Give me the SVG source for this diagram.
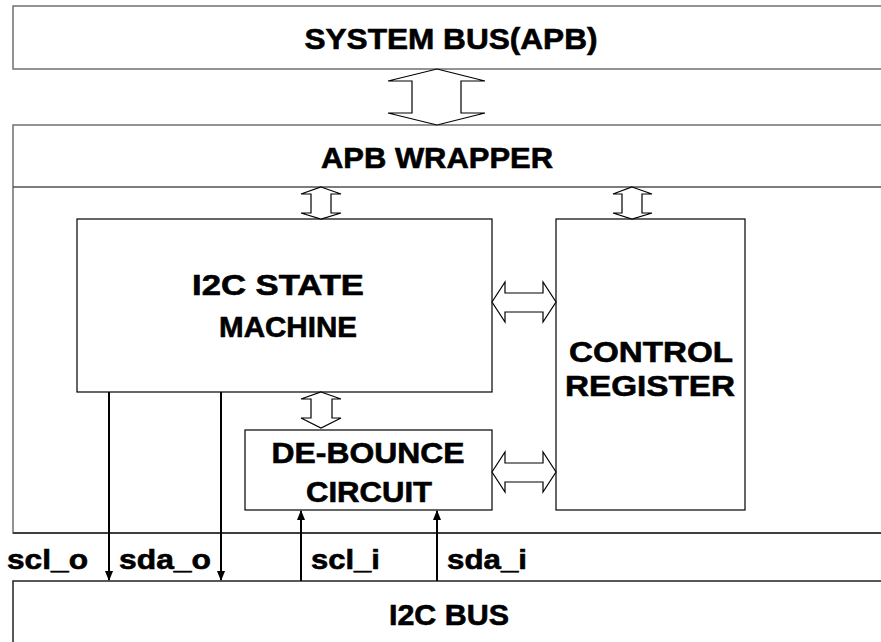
<svg xmlns="http://www.w3.org/2000/svg" width="881" height="642" viewBox="0 0 881 642">
<defs>
<style>
.bus{fill:#fff;stroke:#707070;stroke-width:1.5}
.bus2{fill:#fff;stroke:#222;stroke-width:1.5}
.box{fill:#fff;stroke:#000;stroke-width:1.2}
.arr{fill:#fff;stroke:#000;stroke-width:1.2;stroke-linejoin:miter}
.sig{stroke:#000;stroke-width:2;fill:none}
text{font-family:"Liberation Sans",Arial,sans-serif;font-weight:bold;fill:#000;stroke:#000;stroke-width:0.6;text-anchor:middle}
.t{font-size:29px}
.s{font-size:27px;text-anchor:start}
</style>
<marker id="ah" markerWidth="10" markerHeight="12" refX="9" refY="5" orient="auto" markerUnits="userSpaceOnUse">
<path d="M0,1 L10,5 L0,9 Z" fill="#000"/>
</marker>
</defs>
<rect width="881" height="642" fill="#fff"/>
<g id="system_bus">
<rect class="bus" x="13" y="6" width="900" height="63"/>
<text class="t" x="451" y="49" textLength="293" lengthAdjust="spacingAndGlyphs">SYSTEM BUS(APB)</text>
</g>
<g id="apb_wrapper">
<rect class="bus" x="13" y="125" width="900" height="408"/>
<line x1="13" y1="187" x2="881" y2="187" stroke="#505050" stroke-width="1.5"/>
<line x1="13" y1="533" x2="881" y2="533" stroke="#222" stroke-width="1.5"/>
<text class="t" x="437" y="168" textLength="232" lengthAdjust="spacingAndGlyphs">APB WRAPPER</text>
</g>
<g id="i2c_bus">
<rect class="bus2" x="13" y="581" width="900" height="80"/>
<text class="t" x="449" y="625" textLength="120" lengthAdjust="spacingAndGlyphs">I2C BUS</text>
</g>
<g id="state_machine">
<rect class="box" x="77" y="219" width="415" height="173"/>
<text class="t" x="278" y="295" textLength="172" lengthAdjust="spacingAndGlyphs">I2C STATE</text>
<text class="t" x="288" y="337" textLength="138" lengthAdjust="spacingAndGlyphs">MACHINE</text>
</g>
<g id="control_register">
<rect class="box" x="556" y="219" width="189" height="291"/>
<text class="t" x="651" y="362" textLength="164" lengthAdjust="spacingAndGlyphs">CONTROL</text>
<text class="t" x="650" y="396" textLength="170" lengthAdjust="spacingAndGlyphs">REGISTER</text>
</g>
<g id="debounce">
<rect class="box" x="245" y="430" width="247" height="80"/>
<text class="t" x="368" y="463" textLength="193" lengthAdjust="spacingAndGlyphs">DE-BOUNCE</text>
<text class="t" x="369" y="502" textLength="126" lengthAdjust="spacingAndGlyphs">CIRCUIT</text>
</g>
<g id="connectors">
<polygon class="arr" points="437,69 485,81 461,81 461,113 485,113 437,125 388,113 412,113 412,81 388,81"/>
<polygon class="arr" points="321,187 341,194 331,194 331,213 341,213 321,219 301,213 311,213 311,194 301,194"/>
<polygon class="arr" points="632,187 652,194 642,194 642,213 652,213 632,219 613,213 622,213 622,194 613,194"/>
<polygon class="arr" points="321,392 341,399 332,399 332,418 341,418 321,428 301,418 311,418 311,399 301,399"/>
<polygon class="arr" points="492,302 505,282 505,293 543,293 543,282 556,302 543,322 543,312 505,312 505,322"/>
<polygon class="arr" points="492,472 505,452 505,463 543,463 543,452 556,472 543,492 543,482 505,482 505,492"/>
<line class="sig" x1="109" y1="392" x2="109" y2="580" marker-end="url(#ah)"/>
<line class="sig" x1="221" y1="392" x2="221" y2="580" marker-end="url(#ah)"/>
<line class="sig" x1="301" y1="581" x2="301" y2="511" marker-end="url(#ah)"/>
<line class="sig" x1="437" y1="581" x2="437" y2="511" marker-end="url(#ah)"/>
<text class="s" x="7" y="569" textLength="81" lengthAdjust="spacingAndGlyphs">scl_o</text>
<text class="s" x="119" y="569" textLength="92" lengthAdjust="spacingAndGlyphs">sda_o</text>
<text class="s" x="311" y="569" textLength="69" lengthAdjust="spacingAndGlyphs">scl_i</text>
<text class="s" x="447" y="569" textLength="80" lengthAdjust="spacingAndGlyphs">sda_i</text>
</g>
</svg>
